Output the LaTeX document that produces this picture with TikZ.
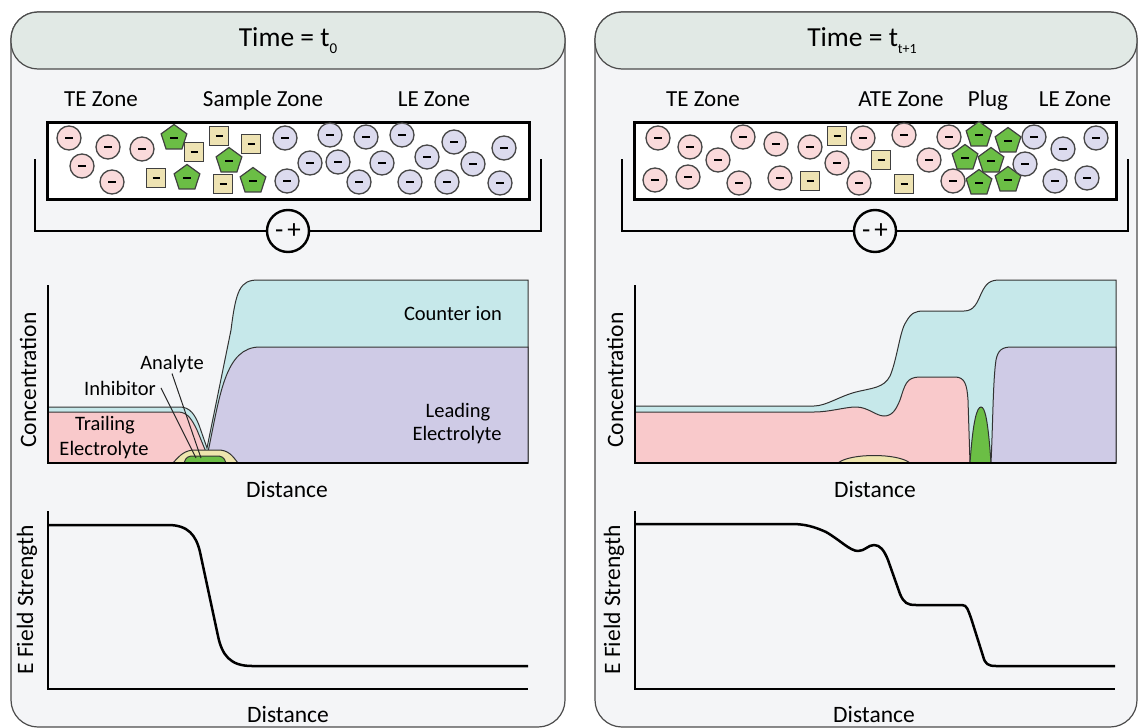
\documentclass[tikz,border=0pt]{standalone}
\usepackage{fontspec}
\setmainfont{Carlito}
\usetikzlibrary{shapes.geometric}
\definecolor{panelbg}{HTML}{F4F5F7}
\definecolor{headbg}{HTML}{E1E9E5}
\definecolor{pinkion}{HTML}{FADADB}
\definecolor{purpion}{HTML}{DCDBEE}
\definecolor{greenfill}{HTML}{6BBE45}
\definecolor{tanfill}{HTML}{EEE3B3}
\definecolor{plotpink}{HTML}{F9C9CB}
\definecolor{plotpurp}{HTML}{CFCBE6}
\definecolor{plotteal}{HTML}{C6E8EA}
\definecolor{plotyel}{HTML}{EEE5AE}
\definecolor{edge}{HTML}{333333}
\newcommand{\mbar}{\rule{8pt}{2.6pt}}
\begin{document}
\begin{tikzpicture}[x=1pt,y=-1pt,
  panel/.style={draw=black!70, line width=1.2pt, fill=panelbg, rounded corners=27pt},
  header/.style={draw=black!70, line width=1.2pt, fill=headbg, rounded corners=27pt},
  title/.style={font=\fontsize{27.5}{30}\selectfont, anchor=base, inner sep=0pt},
  zone/.style={font=\fontsize{23}{26}\selectfont, anchor=base, inner sep=0pt},
  plab/.style={font=\fontsize{20.5}{24}\selectfont, anchor=base, inner sep=1pt},
  alab/.style={font=\fontsize{23.5}{26}\selectfont, inner sep=0pt},
  capillary/.style={draw=black, line width=3pt, fill=white},
  wire/.style={draw=black, line width=1.6pt},
  supply/.style={circle, draw=black, line width=2.4pt, fill=panelbg, minimum size=42pt, inner sep=0pt, font=\fontsize{27}{27}\selectfont},
  ion/.style={circle, draw=black!72, line width=1.3pt, minimum size=24pt, inner sep=0pt},
  pinkI/.style={ion, fill=pinkion},
  purpI/.style={ion, fill=purpion},
  pentI/.style={regular polygon, regular polygon sides=5, draw=black!75, line width=1.2pt, fill=greenfill, minimum size=27pt, inner sep=0pt},
  sqI/.style={rectangle, draw=black!75, line width=1.2pt, fill=tanfill, minimum size=19pt, inner sep=0pt},
  region/.style={draw=edge, line width=1pt},
  axis/.style={draw=black, line width=2.5pt},
  ecurve/.style={draw=black, line width=2.5pt, line join=round},
  leader/.style={draw=black!85, line width=1pt}
]
\useasboundingbox (0,0) rectangle (1138,728);

% ================= LEFT PANEL =================
\draw[panel] (11,12) rectangle (565,727);
\draw[header] (11,12) rectangle (565,69);
\node[title] (titleL) at (288,46) {Time = t\raisebox{-7pt}{\fontsize{15}{15}\selectfont 0}};

\node[zone] (teL) at (101,106) {TE Zone};
\node[zone] (sampL) at (263,106) {Sample Zone};
\node[zone] (leL) at (434,106) {LE Zone};

% circuit
\coordinate (cL1) at (35,159);
\coordinate (cL2) at (541,159);
\node[supply] (psL) at (288,231) {-\kern4pt+};
\draw[wire] (cL1) |- (psL.west);
\draw[wire] (psL.east) -| (cL2);
\draw[capillary] (47,122) rectangle (529,199);

\foreach \px/\py [count=\i] in {69/138,108/147,142/149,82/166,112/182}
  \node[pinkI] (LP\i) at (\px,\py) {\mbar};
\foreach \px/\py [count=\i] in {174/138,187/178,229/161,253/181}
  \node[pentI] (LG\i) at (\px,\py) {\mbar};
\foreach \px/\py [count=\i] in {219/136,194/152,251/144,156/178,223/184}
  \node[sqI] (LS\i) at (\px,\py) {\rule{7pt}{2.6pt}};
\foreach \px/\py [count=\i] in {285/138,330/135,366/137,402/135,454/142,504/148,310/163,338/162,382/163,427/157,473/164,287/181,359/182,410/182,447/182,500/183}
  \node[purpI] (LU\i) at (\px,\py) {\mbar};

% concentration plot (left)
\path[region, fill=plotteal] (48,407) -- (180,407) .. controls (190,407) and (195,415) .. (199,425) -- (207,448)
  -- (231,330) .. controls (236,290) and (240,280) .. (258,280) -- (528,280) -- (528,463) -- (48,463) -- cycle;
\path[region, fill=plotpink] (48,412) -- (178,412) .. controls (188,412) and (192,420) .. (197,430) -- (206,452) -- (206,463) -- (48,463) -- cycle;
\path[region, fill=plotpurp] (208,452) .. controls (220,395) and (225,347) .. (260,347) -- (528,347) -- (528,463) -- (208,463) -- cycle;
\path[region, fill=plotyel] (173,463) .. controls (180,455) and (185,450) .. (195,450) -- (218,450) .. controls (228,450) and (232,455) .. (238,463) -- cycle;
\path[region, fill=greenfill] (184,463) .. controls (186,457) and (188,456) .. (194,456) -- (216,456) .. controls (222,456) and (224,457) .. (226,463) -- cycle;

\node[plab] (counterL) at (453,320) {Counter ion};
\node[plab] (leadL1) at (458,417) {Leading};
\node[plab] (leadL2) at (457,440) {Electrolyte};
\node[plab] (trailL1) at (105,430) {Trailing};
\node[plab] (trailL2) at (104,455) {Electrolyte};
\node[plab] (anaL) at (172,369) {Analyte};
\node[plab] (inhL) at (120,395) {Inhibitor};
\coordinate (inhT) at (196,458);
\coordinate (anaT) at (201,458);
\draw[leader] ([xshift=4pt]inhL.east) -- (inhT);
\draw[leader] (anaL.south) -- (anaT);

\coordinate (cAxL) at (48,285);
\coordinate (cOL) at (48,463);
\coordinate (cXL) at (528,463);
\draw[axis] (cAxL) -- (cOL) -- (cXL);
\node[alab, rotate=90] (concL) at (28,380) {Concentration};
\node[alab, anchor=base] (distL1) at (287,497) {Distance};

% E field plot (left)
\coordinate (eAxL) at (48,511);
\coordinate (eOL) at (48,689);
\coordinate (eXL) at (528,689);
\draw[axis] (eAxL) -- (eOL) -- (eXL);
\draw[ecurve] (48,525) -- (168,525) .. controls (188,525) and (196,535) .. (200,552) -- (218,636) .. controls (222,655) and (230,666) .. (252,666) -- (528,666);
\node[alab, rotate=90] (efL) at (27,600) {E Field Strength};
\node[alab, anchor=base] (distL2) at (288,722) {Distance};

% ================= RIGHT PANEL =================
\draw[panel] (595,12) rectangle (1137,727);
\draw[header] (595,12) rectangle (1137,69);
\node[title] (titleR) at (862,46) {Time = t\raisebox{-7pt}{\fontsize{14}{14}\selectfont t+1}};

\node[zone] (teR) at (703,106) {TE Zone};
\node[zone] (ateR) at (901,106) {ATE Zone};
\node[zone] (plugR) at (988,106) {Plug};
\node[zone] (leR) at (1075,106) {LE Zone};

\coordinate (cR1) at (622,159);
\coordinate (cR2) at (1128,159);
\node[supply] (psR) at (875,231) {-\kern4pt+};
\draw[wire] (cR1) |- (psR.west);
\draw[wire] (psR.east) -| (cR2);
\draw[capillary] (634,122) rectangle (1116,199);

\foreach \px/\py [count=\i] in {658/138,690/147,743/137,776/144,810/147,863/138,904/135,949/137,718/160,837/163,929/160,655/180,688/177,739/183,780/178,859/183,953/181}
  \node[pinkI] (RP\i) at (\px,\py) {\mbar};
\foreach \px/\py [count=\i] in {837/136,881/160,810/181,904/184}
  \node[sqI] (RS\i) at (\px,\py) {\rule{7pt}{2.6pt}};
\foreach \px/\py [count=\i] in {979/135,1008/141,965/158,991/161,979/183,1008/180}
  \node[pentI] (RG\i) at (\px,\py) {\mbar};
\foreach \px/\py [count=\i] in {1034/137,1063/149,1096/138,1025/164,1055/181,1087/178}
  \node[purpI] (RU\i) at (\px,\py) {\mbar};

% concentration plot (right)
\path[region, fill=plotteal] (635,406) -- (814,406) .. controls (826,406) and (840,396) .. (856,392)
  .. controls (872,388) and (884,388) .. (890,376) .. controls (897,360) and (900,330) .. (906,322)
  .. controls (911,313) and (915,311) .. (924,311) -- (964,311) .. controls (974,311) and (977,303) .. (981,294)
  .. controls (986,283) and (990,280) .. (1000,280) -- (1116,280) -- (1116,463) -- (635,463) -- cycle;
\path[region, fill=plotpink] (635,412) -- (814,412) .. controls (830,412) and (845,407) .. (856,407)
  .. controls (868,407) and (876,416) .. (884,416) .. controls (892,416) and (896,410) .. (900,400)
  .. controls (905,385) and (906,377) .. (920,377) -- (955,377) .. controls (965,377) and (967,385) .. (968,400)
  -- (970,463) -- (635,463) -- cycle;
\path[region, fill=greenfill] (970,463) .. controls (973,420) and (977,407) .. (981,407) .. controls (985,407) and (988,420) .. (991,463) -- cycle;
\path[region, fill=plotpurp] (991,463) .. controls (993,420) and (993,380) .. (996,360) .. controls (998,350) and (1002,347) .. (1012,347) -- (1116,347) -- (1116,463) -- cycle;
\path[region, fill=plotyel] (838,463) .. controls (850,453) and (898,453) .. (910,463) -- cycle;

\coordinate (cAxR) at (635,285);
\coordinate (cOR) at (635,463);
\coordinate (cXR) at (1116,463);
\draw[axis] (cAxR) -- (cOR) -- (cXR);
\node[alab, rotate=90] (concR) at (615,380) {Concentration};
\node[alab, anchor=base] (distR1) at (875,497) {Distance};

% E field plot (right)
\coordinate (eAxR) at (635,511);
\coordinate (eOR) at (635,689);
\coordinate (eXR) at (1115,689);
\draw[axis] (eAxR) -- (eOR) -- (eXR);
\draw[ecurve] (635,524) -- (792,524) .. controls (805,524) and (815,527) .. (826,532)
  .. controls (840,540) and (850,551) .. (858,551) .. controls (865,551) and (868,545) .. (874,545)
  .. controls (880,545) and (884,550) .. (888,560) -- (900,594) .. controls (904,603) and (907,605) .. (916,605)
  -- (962,605) .. controls (967,605) and (968,610) .. (971,618) -- (983,656) .. controls (985,664) and (988,666) .. (996,666) -- (1115,666);
\node[alab, rotate=90] (efR) at (614,600) {E Field Strength};
\node[alab, anchor=base] (distR2) at (874,722) {Distance};
\end{tikzpicture}
\end{document}
